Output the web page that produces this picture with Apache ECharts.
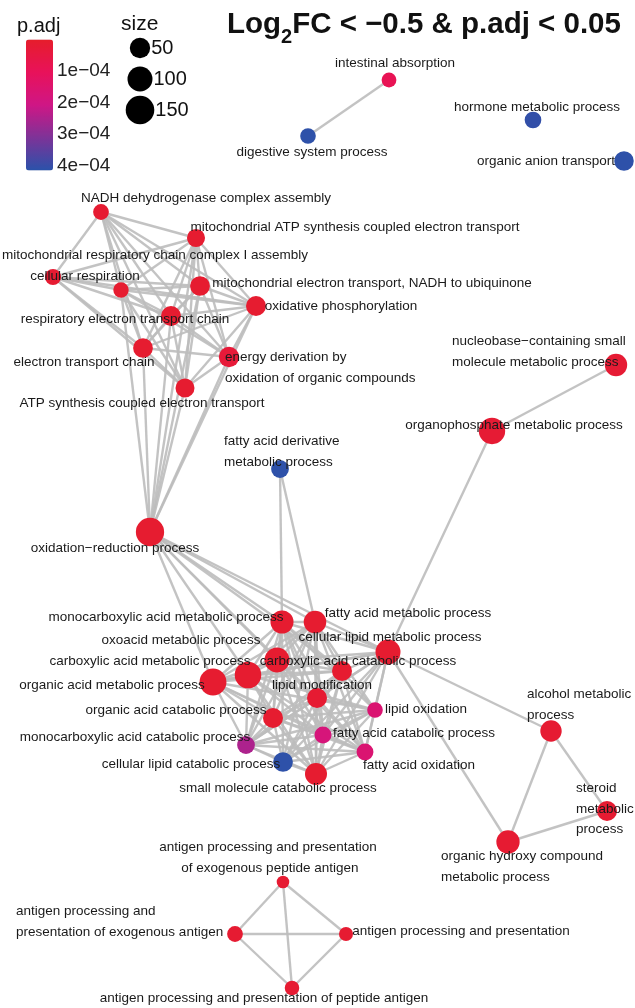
<!DOCTYPE html>
<html>
<head>
<meta charset="utf-8">
<script src="https://cdn.jsdelivr.net/npm/echarts@6/dist/echarts.min.js"></script>
<style>
  html, body { margin: 0; padding: 0; background: #ffffff; }
  #chart { width: 635px; height: 1008px; }
</style>
</head>
<body>
<div id="chart"></div>
<script>
// Enrichment map of GO terms (Log2FC < -0.5 & p.adj < 0.05)
// Node keys, term names, network layout coordinates, gene counts and adjusted p-values.
const termKeys = ['IA','DSP','HMP','OAT','NDH','MAS','MRC','CRS','MET','OXP','RET','ETC','EDO','ASC','ORP',
  'FAD','NSM','OPM','MAM','FAM','OXM','CLM','CAM','CAC','OAM','LMD','OAC','LOX','FAC','MAC','FAO','CLC','SMC',
  'ALC','STM','OHC','APE','AEX','APP','APA'];

const termNames = [
  'intestinal absorption',
  'digestive system process',
  'hormone metabolic process',
  'organic anion transport',
  'NADH dehydrogenase complex assembly',
  'mitochondrial ATP synthesis coupled electron transport',
  'mitochondrial respiratory chain complex I assembly',
  'cellular respiration',
  'mitochondrial electron transport, NADH to ubiquinone',
  'oxidative phosphorylation',
  'respiratory electron transport chain',
  'electron transport chain',
  'energy derivation by\noxidation of organic compounds',
  'ATP synthesis coupled electron transport',
  'oxidation\u2212reduction process',
  'fatty acid derivative\nmetabolic process',
  'nucleobase\u2212containing small\nmolecule metabolic process',
  'organophosphate metabolic process',
  'monocarboxylic acid metabolic process',
  'fatty acid metabolic process',
  'oxoacid metabolic process',
  'cellular lipid metabolic process',
  'carboxylic acid metabolic process',
  'carboxylic acid catabolic process',
  'organic acid metabolic process',
  'lipid modification',
  'organic acid catabolic process',
  'lipid oxidation',
  'fatty acid catabolic process',
  'monocarboxylic acid catabolic process',
  'fatty acid oxidation',
  'cellular lipid catabolic process',
  'small molecule catabolic process',
  'alcohol metabolic\nprocess',
  'steroid\nmetabolic\nprocess',
  'organic hydroxy compound\nmetabolic process',
  'antigen processing and presentation\n of exogenous peptide antigen',
  'antigen processing and\npresentation of exogenous antigen',
  'antigen processing and presentation',
  'antigen processing and presentation of peptide antigen'
];

const layoutX = [389, 308, 533, 624, 101, 196, 53, 121, 200, 256, 171, 143, 229, 185, 150,
  280, 616, 492, 282, 315, 277, 388, 248, 342, 213, 317, 273, 375, 323, 246, 365, 283, 316,
  551, 607, 508, 283, 235, 346, 292];
const layoutY = [80, 136, 120, 161, 212, 238, 277, 290, 286, 306, 316, 348, 357, 388, 532,
  469, 365, 431, 622, 622, 660, 652, 675, 671, 682, 698, 718, 710, 735, 745, 752, 762, 774,
  731, 811, 842, 882, 934, 934, 988];

const geneCount = [13, 17, 23, 43, 18, 32, 20, 16, 45, 47, 47, 45, 50, 39, 145,
  30, 70, 118, 77, 72, 100, 100, 120, 47, 125, 47, 47, 17, 25, 30, 24, 45, 66,
  60, 47, 80, 5, 18, 10, 12];

const pAdj = [0.9e-4, 4.1e-4, 4.05e-4, 4.1e-4, 1.5e-5, 1e-5, 1.5e-5, 1e-5, 1e-5, 1e-5, 1e-5, 1e-5, 3e-5, 1e-5, 1e-5,
  4.1e-4, 2e-5, 2e-5, 1e-5, 1e-5, 1e-5, 1e-5, 1e-5, 1e-5, 1e-5, 1.5e-5, 1e-5, 1.6e-4, 1.8e-4, 2.5e-4, 1.6e-4, 4.1e-4, 1e-5,
  1.5e-5, 1.5e-5, 1.5e-5, 1.5e-5, 1.5e-5, 1.5e-5, 1.5e-5];

// Term-term similarity edges
const edges = [
  'IA-DSP',
  'NDH-MRC','NDH-CRS','NDH-MET','NDH-OXP','NDH-RET','NDH-ETC','NDH-ASC','NDH-MAS','NDH-EDO',
  'MAS-MRC','MAS-CRS','MAS-MET','MAS-OXP','MAS-RET','MAS-ETC','MAS-EDO','MAS-ASC',
  'MRC-CRS','MRC-MET','MRC-RET','MRC-ETC','MRC-OXP','MRC-ASC',
  'CRS-MET','CRS-OXP','CRS-RET','CRS-ETC','CRS-EDO','CRS-ASC',
  'MET-OXP','MET-RET','MET-ETC','MET-EDO','MET-ASC',
  'OXP-RET','OXP-ETC','OXP-EDO','OXP-ASC',
  'RET-ETC','RET-EDO','RET-ASC',
  'ETC-EDO','ETC-ASC','EDO-ASC',
  'ORP-CRS','ORP-MET','ORP-RET','ORP-ETC','ORP-EDO','ORP-ASC','ORP-OXP','ORP-MAS',
  'ORP-MAM','ORP-FAM','ORP-OXM','ORP-CLM','ORP-CAM','ORP-CAC','ORP-OAM','ORP-LMD',
  'FAD-MAM','FAD-FAM','NSM-OPM','OPM-CLM',
  'MAM-FAM','MAM-OXM','MAM-CLM','MAM-CAM','MAM-CAC','MAM-OAM','MAM-LMD','MAM-OAC','MAM-LOX','MAM-FAC','MAM-MAC','MAM-FAO','MAM-CLC','MAM-SMC',
  'FAM-OXM','FAM-CLM','FAM-CAM','FAM-CAC','FAM-OAM','FAM-LMD','FAM-OAC','FAM-LOX','FAM-FAC','FAM-MAC','FAM-FAO','FAM-CLC','FAM-SMC',
  'OXM-CLM','OXM-CAM','OXM-CAC','OXM-OAM','OXM-OAC','OXM-FAC','OXM-MAC','OXM-FAO','OXM-SMC',
  'CLM-CAM','CLM-CAC','CLM-OAM','CLM-LMD','CLM-LOX','CLM-FAC','CLM-MAC','CLM-FAO','CLM-CLC','CLM-SMC','CLM-ALC','CLM-OHC',
  'CAM-CAC','CAM-OAM','CAM-OAC','CAM-FAC','CAM-MAC','CAM-FAO','CAM-SMC','CAM-LOX',
  'CAC-OAM','CAC-LMD','CAC-OAC','CAC-LOX','CAC-FAC','CAC-MAC','CAC-FAO','CAC-CLC','CAC-SMC',
  'OAM-OAC','OAM-LOX','OAM-FAC','OAM-MAC','OAM-FAO','OAM-SMC',
  'LMD-OAC','LMD-LOX','LMD-FAC','LMD-MAC','LMD-FAO','LMD-CLC','LMD-SMC',
  'OAC-LOX','OAC-FAC','OAC-MAC','OAC-FAO','OAC-CLC','OAC-SMC',
  'LOX-FAC','LOX-MAC','LOX-FAO','LOX-CLC','LOX-SMC',
  'FAC-MAC','FAC-FAO','FAC-CLC','FAC-SMC',
  'MAC-FAO','MAC-CLC','MAC-SMC','FAO-CLC','FAO-SMC','CLC-SMC',
  'ALC-OHC','ALC-STM','STM-OHC',
  'APE-AEX','APE-APP','APE-APA','AEX-APP','AEX-APA','APP-APA'
];

// Legend scales
const sizeBreaks = [50, 100, 150];
const pAdjTicks = [1e-4, 2e-4, 3e-4, 4e-4];
const pAdjTickLabels = ['1e\u221204', '2e\u221204', '3e\u221204', '4e\u221204'];
const pAdjRange = [0, 4.15e-4];

// Label placement around each node: [dx, dy, align]
const labelPlacement = {
  IA: [6, -17, 'center'], DSP: [4, 16, 'center'], HMP: [4, -13, 'center'], OAT: [-78, 0, 'center'],
  NDH: [105, -14, 'center'], MAS: [159, -11, 'center'], MRC: [102, -22, 'center'], CRS: [-36, -14, 'center'],
  MET: [172, -3, 'center'], OXP: [85, 0, 'center'], RET: [-46, 3, 'center'], ETC: [-59, 14, 'center'],
  EDO: [-4, 11, 'left'], ASC: [-43, 15, 'center'], ORP: [-35, 16, 'center'],
  FAD: [-56, -17, 'left'], NSM: [-164, -13, 'left'], OPM: [22, -6, 'center'],
  MAM: [-116, -5, 'center'], FAM: [93, -9, 'center'], OXM: [-96, -20, 'center'], CLM: [2, -15, 'center'],
  CAM: [-98, -14, 'center'], CAC: [16, -10, 'center'], OAM: [-101, 3, 'center'], LMD: [5, -13, 'center'],
  OAC: [-97, -8, 'center'], LOX: [51, -1, 'center'], FAC: [91, -2, 'center'], MAC: [-111, -8, 'center'],
  FAO: [54, 13, 'center'], CLC: [-92, 2, 'center'], SMC: [-38, 14, 'center'],
  ALC: [-24, -26, 'left'], STM: [-31, -2, 'left'], OHC: [-67, 25, 'left'],
  APE: [-15, -24, 'center'], AEX: [-219, -12, 'left'], APP: [115, -3, 'center'], APA: [-28, 10, 'center']
};

const FONT = '"Liberation Sans", Arial, sans-serif';
const nodeDiameter = (count) => 9 + 1.6 * Math.sqrt(count);

// Edge skeleton: graph series positioned on the same axes as the nodes
const graphNodes = termKeys.map((k, i) => ({ name: k, value: [layoutX[i], layoutY[i]] }));
const links = edges.map(e => {
  const [s, t] = e.split('-');
  return { source: s, target: t };
});

// Term nodes: scatter points coloured by p.adj and sized by gene count
const termPoints = termKeys.map((k, i) => {
  const lp = labelPlacement[k];
  return {
    name: k,
    value: [layoutX[i], layoutY[i], geneCount[i], pAdj[i]],
    label: { position: 'inside', offset: [lp[0], lp[1]], align: lp[2], verticalAlign: 'middle' }
  };
});

const chart = echarts.init(document.getElementById('chart'), null, { renderer: 'canvas' });
chart.setOption({
  animation: false,
  backgroundColor: '#ffffff',
  title: [
    {
      text: '{m|Log}{s|2}{m|FC < \u22120.5 & p.adj < 0.05}',
      left: 227, top: 3, padding: 0,
      textStyle: {
        rich: {
          m: { fontSize: 29.5, fontWeight: 'bold', fontFamily: FONT, color: '#111', lineHeight: 44 },
          s: { fontSize: 20, fontWeight: 'bold', fontFamily: FONT, color: '#111', lineHeight: 20, verticalAlign: 'bottom' }
        }
      }
    },
    { text: 'p.adj', left: 17, top: 16, padding: 0,
      textStyle: { fontSize: 20, fontWeight: 'normal', fontFamily: FONT, color: '#111' } },
    { text: 'size', left: 121, top: 14, padding: 0,
      textStyle: { fontSize: 21, fontWeight: 'normal', fontFamily: FONT, color: '#111' } }
  ],
  visualMap: {
    type: 'continuous',
    seriesIndex: 1,
    dimension: 3,
    min: pAdjRange[0],
    max: pAdjRange[1],
    inverse: true,
    orient: 'vertical',
    left: 26, top: 39.5,
    itemWidth: 27, itemHeight: 131,
    padding: 0,
    text: null,
    calculable: false,
    hoverLink: false,
    inRange: { color: ['#e61d2b', '#e8125a', '#cf1685', '#7d3398', '#2a52aa'] }
  },
  grid: [
    { id: 'net', left: 0, top: 0, right: 0, bottom: 0 },
    { id: 'cbar', left: 26, top: 39.5, width: 27, height: 131 },
    { id: 'sizeKey', left: 128, top: 32.5, width: 24, height: 93 }
  ],
  xAxis: [
    { gridIndex: 0, type: 'value', min: 0, max: 635, show: false },
    { gridIndex: 1, type: 'value', min: 0, max: 1, show: false },
    { gridIndex: 2, type: 'value', min: 0, max: 1, show: false }
  ],
  yAxis: [
    { gridIndex: 0, type: 'value', min: 0, max: 1008, inverse: true, show: false },
    {
      gridIndex: 1, type: 'value', min: pAdjRange[0], max: pAdjRange[1], inverse: true, position: 'right',
      axisLine: { show: false },
      splitLine: { show: false },
      axisTick: { show: true, customValues: pAdjTicks, length: 3, inside: false, lineStyle: { color: '#aaa', width: 1 } },
      axisLabel: {
        customValues: pAdjTicks,
        margin: 4, fontSize: 19, fontFamily: FONT, color: '#222',
        formatter: (v) => {
          const i = pAdjTicks.findIndex(t => Math.abs(t - v) < 1e-9);
          return i >= 0 ? pAdjTickLabels[i] : '';
        }
      }
    },
    { gridIndex: 2, type: 'category', data: sizeBreaks.map(String), show: false, inverse: true }
  ],
  series: [
    {
      type: 'graph',
      coordinateSystem: 'cartesian2d',
      xAxisIndex: 0, yAxisIndex: 0,
      data: graphNodes,
      links: links,
      symbol: 'none',
      symbolSize: 0,
      lineStyle: { color: '#bdbdbd', width: 2.4, opacity: 0.9, curveness: 0 },
      label: { show: false },
      emphasis: { disabled: true },
      silent: true,
      z: 1
    },
    {
      type: 'scatter',
      xAxisIndex: 0, yAxisIndex: 0,
      data: termPoints,
      symbol: 'circle',
      symbolSize: (val) => nodeDiameter(val[2]),
      itemStyle: { opacity: 1 },
      label: {
        show: true,
        position: 'inside',
        fontSize: 13.5,
        lineHeight: 20.5,
        fontFamily: FONT,
        color: '#1a1a1a',
        formatter: (p) => termNames[p.dataIndex]
      },
      emphasis: { disabled: true },
      z: 3
    },
    {
      type: 'scatter',
      xAxisIndex: 2, yAxisIndex: 2,
      data: sizeBreaks.map((b, i) => [0.5, i, b]),
      symbolSize: (val) => nodeDiameter(val[2]),
      itemStyle: { color: '#000000', opacity: 1 },
      label: {
        show: true, position: 'right', distance: 1,
        fontSize: 20, fontFamily: FONT, color: '#111',
        formatter: (p) => String(p.value[2])
      },
      emphasis: { disabled: true }
    }
  ]
});
</script>
</body>
</html>
